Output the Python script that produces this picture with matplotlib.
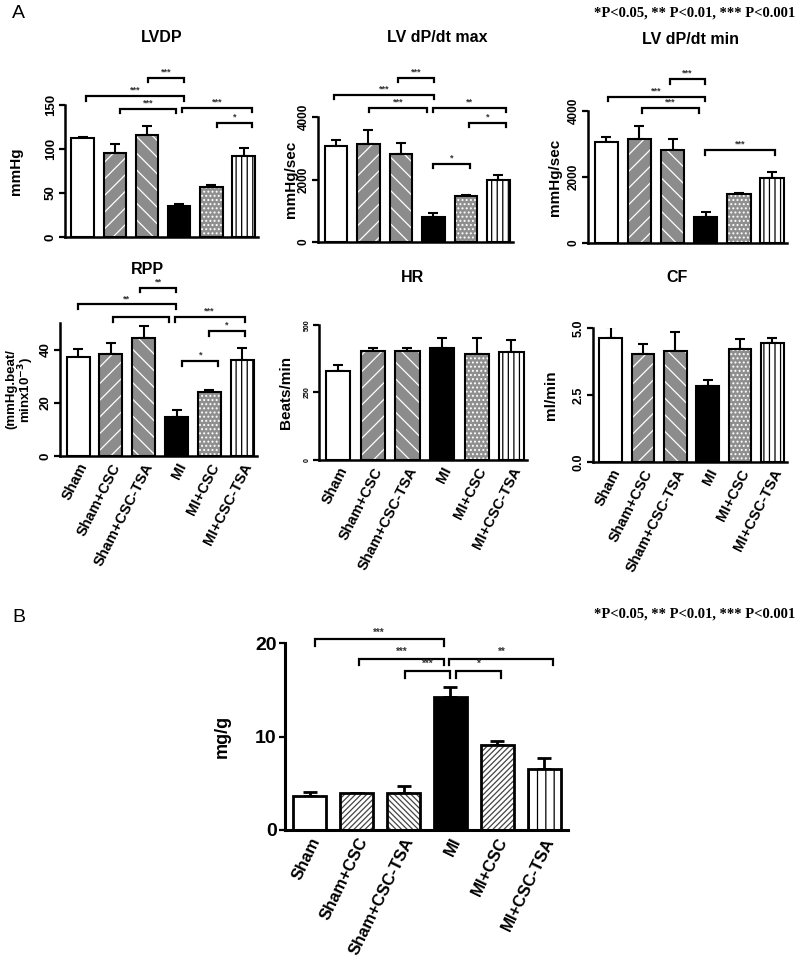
import numpy as np
import matplotlib
matplotlib.use('Agg')
import matplotlib.pyplot as plt

plt.rcParams['font.family'] = ['Liberation Sans', 'DejaVu Sans']
plt.rcParams['hatch.linewidth'] = 0.9

W, H = 800, 965

groups = ['Sham', 'Sham+CSC', 'Sham+CSC-TSA', 'MI', 'MI+CSC', 'MI+CSC-TSA']

# panel A values (mean, upper SEM)
lvdp_mean = [112, 96, 116, 35, 57, 92]
lvdp_err = [2, 10, 10, 2, 2, 9]
dpmax_mean = [3080, 3150, 2830, 800, 1480, 1990]
dpmax_err = [170, 420, 340, 130, 40, 170]
dpmin_mean = [3070, 3140, 2830, 780, 1480, 1980]
dpmin_err = [150, 400, 310, 150, 40, 180]
rpp_mean = [37.2, 38.4, 44.2, 14.5, 24.0, 36.2]
rpp_err = [3.1, 4.1, 4.6, 2.9, 0.9, 4.4]
hr_mean = [331, 405, 405, 415, 393, 399]
hr_err = [20, 9, 9, 36, 60, 45]
cf_mean = [4.63, 4.04, 4.13, 2.84, 4.23, 4.43]
cf_err = [0.4, 0.36, 0.71, 0.22, 0.37, 0.21]

# panel B values
hw_mean = [3.6, 4.0, 4.0, 14.2, 9.1, 6.5]
hw_err = [0.5, 0.0, 0.7, 1.1, 0.4, 1.2]

# significance brackets: (x from, x to, height, label)
lvdp_brackets = [(0.1, 3.14, 160, '***'), (2.04, 3.14, 181, '***'), (1.17, 2.9, 146, '***'),
                 (3.1, 5.26, 147, '***'), (4.17, 5.26, 130, '*')]
dpmax_brackets = [(-0.06, 3.03, 4715, '***'), (1.92, 3.03, 5248, '***'), (1.03, 2.8, 4299, '***'),
                  (2.99, 5.23, 4299, '**'), (4.1, 5.23, 3819, '*'), (2.99, 4.12, 2507, '*')]
dpmin_brackets = [(0.04, 2.99, 4435, '***'), (1.92, 2.99, 4972, '***'), (1.09, 2.79, 4081, '***'),
                  (2.97, 5.09, 2815, '***')]
rpp_brackets = [(0.0, 2.97, 57, '**'), (1.9, 2.97, 63.3, '**'), (1.07, 2.77, 52.3, ''),
                (2.94, 5.07, 52.3, '***'), (4.0, 5.07, 46.9, '*'), (3.17, 4.27, 35.6, '*')]
hw_brackets = [(0.1, 2.86, 20.4, '***'), (1.05, 2.86, 18.3, '***'), (2.03, 3.0, 17.0, '***'),
               (2.98, 5.2, 18.3, '**'), (3.12, 4.09, 17.0, '*')]

# bar styles: (face, hatch colour, hatch)
style_a = [('white', 'black', None), ('#8c8c8c', 'white', '//'), ('#8c8c8c', 'white', '\\\\'),
           ('black', 'black', None), ('#8f8f8f', 'white', '....'), ('white', 'black', '|||')]
style_b = [('white', 'black', None), ('white', '#444444', '//////'), ('white', '#444444', '\\\\\\\\\\\\'),
           ('black', 'black', None), ('white', '#444444', '//////'), ('white', 'black', '||')]


def px_axes(left, bottom, right, top):
    return [left / W, 1 - bottom / H, (right - left) / W, (bottom - top) / H]


def bars(ax, mean, err, styles, capsize, lw=1.5):
    x = np.arange(len(mean))
    for i in range(len(mean)):
        face, hc, h = styles[i]
        ax.bar(x[i], mean[i], 0.7, color=face, edgecolor=hc, hatch=h, linewidth=0, zorder=2)
        ax.bar(x[i], mean[i], 0.7, fill=False, edgecolor='black', linewidth=lw, zorder=3)
    ax.errorbar(x, mean, yerr=[np.zeros(len(err)), err], fmt='none', ecolor='black',
                elinewidth=lw, capsize=capsize, capthick=lw, zorder=1)


def brackets(ax, items, ylim, fs=6.5):
    tick = 0.035 * ylim
    for x1, x2, y, lab in items:
        ax.plot([x1, x1, x2, x2], [y - tick, y, y, y - tick], color='black', lw=1.6,
                clip_on=False, solid_joinstyle='miter')
        if lab:
            ax.text((x1 + x2) / 2, y + 0.01 * ylim, lab, ha='center', va='bottom',
                    fontsize=fs, fontweight='bold', color='#333333', clip_on=False)


def style_axis(ax, ylim, yticks, ytl_size, rot=90, xlim=(-0.55, 5.45)):
    ax.set_xlim(*xlim)
    ax.set_ylim(0, ylim)
    ax.set_yticks(yticks)
    for s in ['top', 'right']:
        ax.spines[s].set_visible(False)
    for s in ['left', 'bottom']:
        ax.spines[s].set_linewidth(1.8)
    ax.tick_params(axis='y', length=4, width=1.6, labelsize=ytl_size, labelrotation=rot, pad=2)
    for t in ax.get_yticklabels():
        t.set_fontweight('bold')
        if rot == 90:
            t.set_va('center')
    ax.tick_params(axis='x', length=0)


fig = plt.figure(figsize=(W / 100, H / 100), dpi=100)

panels = [
    (px_axes(65, 237, 258, 105), lvdp_mean, lvdp_err, lvdp_brackets, 150, [0, 50, 100, 150], 9.5,
     'mmHg', 11, -0.22, 'LVDP', (162, 37), False),
    (px_axes(318, 242, 513, 117), dpmax_mean, dpmax_err, dpmax_brackets, 4000, [0, 2000, 4000], 8.5,
     'mmHg/sec', 11, -0.105, 'LV dP/dt max', (437, 38), False),
    (px_axes(588, 243, 787, 111), dpmin_mean, dpmin_err, dpmin_brackets, 4000, [0, 2000, 4000], 8.5,
     'mmHg/sec', 11, -0.13, 'LV dP/dt min', (691, 39), False),
    (px_axes(60, 456, 257, 323), rpp_mean, rpp_err, rpp_brackets, 50, [0, 20, 40], 9.5,
     '(mmHg.beat/\nminx10$^{\\mathbf{-3}}$)', 9.5, -0.12, 'RPP', (147, 269), True),
    (px_axes(319, 460, 527, 325), hr_mean, hr_err, [], 500, [0, 250, 500], 5,
     'Beats/min', 11, -0.125, 'HR', (412, 277), True),
    (px_axes(593, 462, 787, 328), cf_mean, cf_err, [], 5.0, [0, 2.5, 5.0], 9,
     'ml/min', 11, -0.18, 'CF', (677, 277), True),
]

for rect, mean, err, br, ylim, yt, ysz, ylab, ylsz, ylx, title, tpos, show_x in panels:
    ax = fig.add_axes(rect)
    bars(ax, mean, err, style_a, capsize=3.6)
    style_axis(ax, ylim, yt, ysz)
    if ylim == 5.0:
        ax.set_yticklabels(['0.0', '2.5', '5.0'], fontweight='bold')
    brackets(ax, br, ylim)
    ax.set_ylabel(ylab, fontsize=ylsz, fontweight='bold', linespacing=0.95)
    ax.yaxis.set_label_coords(ylx, 0.5)
    ax.set_xticks(np.arange(len(groups)))
    if show_x:
        ax.set_xticklabels(groups, rotation=63, ha='right', rotation_mode='anchor',
                           fontsize=10.5, fontweight='bold')
    else:
        ax.set_xticklabels([])
    fig.text(tpos[0] / W, 1 - tpos[1] / H, title, ha='center', va='center',
             fontsize=11.5, fontweight='bold')

# panel B
axb = fig.add_axes(px_axes(285, 830, 568, 643))
bars(axb, hw_mean, hw_err, style_b, capsize=4.7, lw=2)
style_axis(axb, 20, [0, 10, 20], 14, rot=0, xlim=(-0.53, 5.51))
axb.spines['left'].set_linewidth(2.2)
axb.spines['bottom'].set_linewidth(2.2)
brackets(axb, hw_brackets, 20, fs=7)
axb.set_ylabel('mg/g', fontsize=13, fontweight='bold')
axb.yaxis.set_label_coords(-0.19, 0.5)
axb.set_xticks(np.arange(len(groups)))
axb.set_xticklabels(groups, rotation=64, ha='right', rotation_mode='anchor',
                    fontsize=12, fontweight='bold')

fig.text(12 / W, 1 - 13 / H, 'A', fontsize=14, ha='left', va='center')
fig.text(12 / W, 1 - 617 / H, 'B', fontsize=14, ha='left', va='center')
ptxt = '*P<0.05, ** P<0.01, *** P<0.001'
fig.text(795 / W, 1 - 13 / H, ptxt, ha='right', va='center', fontsize=10.5,
         fontweight='bold', family=['Liberation Serif', 'DejaVu Serif'])
fig.text(795 / W, 1 - 614 / H, ptxt, ha='right', va='center', fontsize=10.5,
         fontweight='bold', family=['Liberation Serif', 'DejaVu Serif'])

fig.savefig('out.png', dpi=100)
